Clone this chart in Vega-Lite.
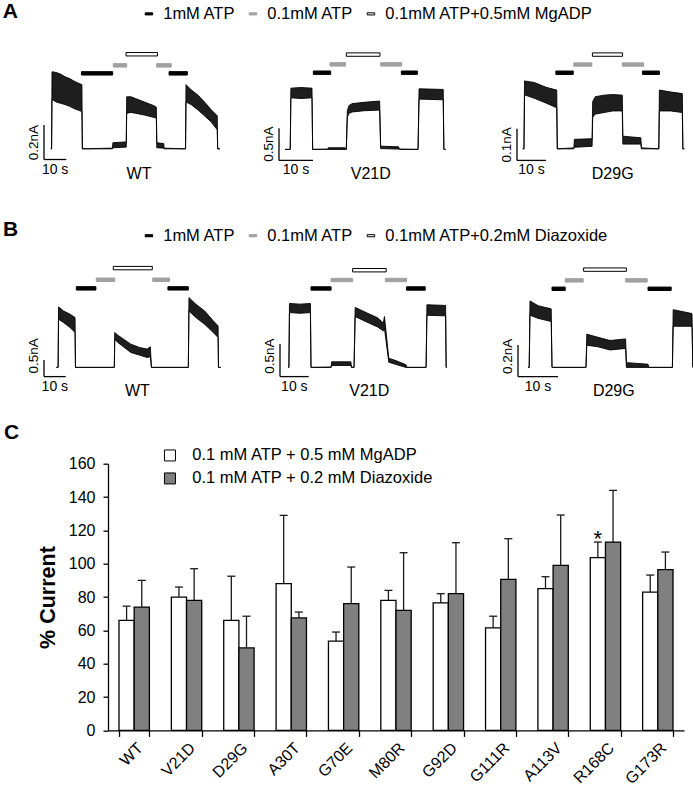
{
"$schema": "https://vega.github.io/schema/vega-lite/v6.json",
"padding": {"left": 2, "top": 0, "right": 0, "bottom": 0},
"config": {
  "view": {"stroke": null},
  "font": "Liberation Sans",
  "text": {"font": "Liberation Sans", "color": "#000"},
  "title": {"font": "Liberation Sans", "color": "#000"},
  "legend": {"labelFont": "Liberation Sans", "labelColor": "#000", "labelLimit": 400},
  "axis": {"labelFont": "Liberation Sans", "titleFont": "Liberation Sans"}
},
"datasets": {
"tr": [
{"p":"AWT","g":"trace","t":3.0,"v":0,"v2":0},
{"p":"AWT","g":"trace","t":3.4,"v":0,"v2":0},
{"p":"AWT","g":"trace","t":3.6,"v":0.444,"v2":0.285},
{"p":"AWT","g":"trace","t":5.5,"v":0.44,"v2":0.27},
{"p":"AWT","g":"trace","t":7.5,"v":0.43,"v2":0.262},
{"p":"AWT","g":"trace","t":9.5,"v":0.415,"v2":0.255},
{"p":"AWT","g":"trace","t":11.5,"v":0.405,"v2":0.245},
{"p":"AWT","g":"trace","t":13.5,"v":0.39,"v2":0.232},
{"p":"AWT","g":"trace","t":15.5,"v":0.378,"v2":0.222},
{"p":"AWT","g":"trace","t":17.0,"v":0.37,"v2":0.215},
{"p":"AWT","g":"trace","t":17.2,"v":0,"v2":0},
{"p":"AWT","g":"trace","t":30.7,"v":0.004,"v2":0},
{"p":"AWT","g":"trace","t":30.9,"v":0.035,"v2":0.006},
{"p":"AWT","g":"trace","t":36.9,"v":0.04,"v2":0.01},
{"p":"AWT","g":"trace","t":37.1,"v":0.30,"v2":0.205},
{"p":"AWT","g":"trace","t":39,"v":0.30,"v2":0.21},
{"p":"AWT","g":"trace","t":41,"v":0.29,"v2":0.205},
{"p":"AWT","g":"trace","t":45,"v":0.27,"v2":0.195},
{"p":"AWT","g":"trace","t":49,"v":0.25,"v2":0.182},
{"p":"AWT","g":"trace","t":50.4,"v":0.24,"v2":0.177},
{"p":"AWT","g":"trace","t":50.6,"v":0.035,"v2":0.006},
{"p":"AWT","g":"trace","t":53.7,"v":0.03,"v2":0.004},
{"p":"AWT","g":"trace","t":53.9,"v":0.004,"v2":0},
{"p":"AWT","g":"trace","t":63.5,"v":0,"v2":0},
{"p":"AWT","g":"trace","t":63.7,"v":0.37,"v2":0.27},
{"p":"AWT","g":"trace","t":66,"v":0.34,"v2":0.255},
{"p":"AWT","g":"trace","t":69,"v":0.31,"v2":0.225},
{"p":"AWT","g":"trace","t":72,"v":0.27,"v2":0.19},
{"p":"AWT","g":"trace","t":75,"v":0.225,"v2":0.155},
{"p":"AWT","g":"trace","t":77.7,"v":0.19,"v2":0.11},
{"p":"AWT","g":"trace","t":77.9,"v":0,"v2":0},
{"p":"AWT","g":"trace","t":78.9,"v":0,"v2":0},
{"p":"AWT","g":"sol","t":16.8,"t2":30.8,"v":0.435,"sol":"1mM ATP"},
{"p":"AWT","g":"sol","t":31.1,"t2":37.1,"v":0.481,"sol":"0.1mM ATP"},
{"p":"AWT","g":"sol","t":36.8,"t2":50.9,"v":0.545,"sol":"0.1mM ATP+0.5mM MgADP"},
{"p":"AWT","g":"sol","t":50.5,"t2":57.1,"v":0.481,"sol":"0.1mM ATP"},
{"p":"AWT","g":"sol","t":56.1,"t2":64.3,"v":0.435,"sol":"1mM ATP"},
{"p":"AWT","g":"sbar","t":0,"t2":0,"v":-0.0615,"v2":0.138},
{"p":"AWT","g":"sbar","t":0,"t2":10,"v":-0.0615,"v2":-0.0615},
{"p":"AWT","g":"lab","kind":"scale","txt":"0.2nA","t":0,"v":0.0355},
{"p":"AWT","g":"lab","kind":"time","txt":"10 s","t":5,"v":-0.0615},
{"p":"AWT","g":"lab","kind":"geno","txt":"WT","t":42.6,"v":-0.0615},

{"p":"AV21D","g":"trace","t":1.76,"v":0,"v2":0},
{"p":"AV21D","g":"trace","t":3.3,"v":0,"v2":0},
{"p":"AV21D","g":"trace","t":3.5,"v":0.95,"v2":0.80},
{"p":"AV21D","g":"trace","t":6.5,"v":0.96,"v2":0.79},
{"p":"AV21D","g":"trace","t":9.7,"v":0.95,"v2":0.80},
{"p":"AV21D","g":"trace","t":9.9,"v":0,"v2":0},
{"p":"AV21D","g":"trace","t":14.3,"v":0.004,"v2":0},
{"p":"AV21D","g":"trace","t":14.5,"v":0.025,"v2":0},
{"p":"AV21D","g":"trace","t":19.4,"v":0.025,"v2":0},
{"p":"AV21D","g":"trace","t":19.6,"v":0.004,"v2":0},
{"p":"AV21D","g":"trace","t":19.8,"v":0,"v2":0},
{"p":"AV21D","g":"trace","t":20.1,"v":0.60,"v2":0.50},
{"p":"AV21D","g":"trace","t":20.6,"v":0.68,"v2":0.56},
{"p":"AV21D","g":"trace","t":21.5,"v":0.71,"v2":0.58},
{"p":"AV21D","g":"trace","t":25,"v":0.73,"v2":0.60},
{"p":"AV21D","g":"trace","t":29.6,"v":0.75,"v2":0.61},
{"p":"AV21D","g":"trace","t":29.9,"v":0.05,"v2":0.012},
{"p":"AV21D","g":"trace","t":35.2,"v":0.04,"v2":0.005},
{"p":"AV21D","g":"trace","t":35.4,"v":0.004,"v2":0},
{"p":"AV21D","g":"trace","t":40.9,"v":0,"v2":0},
{"p":"AV21D","g":"trace","t":41.2,"v":0.94,"v2":0.78},
{"p":"AV21D","g":"trace","t":48.3,"v":0.93,"v2":0.77},
{"p":"AV21D","g":"trace","t":48.5,"v":0,"v2":0},
{"p":"AV21D","g":"trace","t":49,"v":0,"v2":0},
{"p":"AV21D","g":"sol","t":10.1,"t2":15.2,"v":1.19,"sol":"1mM ATP"},
{"p":"AV21D","g":"sol","t":15.0,"t2":19.6,"v":1.319,"sol":"0.1mM ATP"},
{"p":"AV21D","g":"sol","t":19.8,"t2":29.7,"v":1.471,"sol":"0.1mM ATP+0.5mM MgADP"},
{"p":"AV21D","g":"sol","t":29.9,"t2":36.1,"v":1.319,"sol":"0.1mM ATP"},
{"p":"AV21D","g":"sol","t":36.0,"t2":40.7,"v":1.19,"sol":"1mM ATP"},
{"p":"AV21D","g":"sbar","t":0,"t2":0,"v":-0.171,"v2":0.329},
{"p":"AV21D","g":"sbar","t":0,"t2":10,"v":-0.171,"v2":-0.171},
{"p":"AV21D","g":"lab","kind":"scale","txt":"0.5nA","t":0,"v":0.08},
{"p":"AV21D","g":"lab","kind":"time","txt":"10 s","t":5,"v":-0.171},
{"p":"AV21D","g":"lab","kind":"geno","txt":"V21D","t":27.0,"v":-0.171},

{"p":"AD29G","g":"trace","t":1.97,"v":0,"v2":0},
{"p":"AD29G","g":"trace","t":2.4,"v":0,"v2":0},
{"p":"AD29G","g":"trace","t":2.6,"v":0.215,"v2":0.171},
{"p":"AD29G","g":"trace","t":6,"v":0.21,"v2":0.16},
{"p":"AD29G","g":"trace","t":10,"v":0.195,"v2":0.145},
{"p":"AD29G","g":"trace","t":13.7,"v":0.186,"v2":0.13},
{"p":"AD29G","g":"trace","t":13.9,"v":0,"v2":0},
{"p":"AD29G","g":"trace","t":19.6,"v":0.003,"v2":0},
{"p":"AD29G","g":"trace","t":19.8,"v":0.03,"v2":0.005},
{"p":"AD29G","g":"trace","t":25.9,"v":0.032,"v2":0.008},
{"p":"AD29G","g":"trace","t":26.1,"v":0.15,"v2":0.10},
{"p":"AD29G","g":"trace","t":27,"v":0.165,"v2":0.11},
{"p":"AD29G","g":"trace","t":30,"v":0.17,"v2":0.115},
{"p":"AD29G","g":"trace","t":33,"v":0.172,"v2":0.12},
{"p":"AD29G","g":"trace","t":36.3,"v":0.17,"v2":0.12},
{"p":"AD29G","g":"trace","t":36.5,"v":0.04,"v2":0.015},
{"p":"AD29G","g":"trace","t":42.7,"v":0.035,"v2":0.015},
{"p":"AD29G","g":"trace","t":42.9,"v":0.003,"v2":0},
{"p":"AD29G","g":"trace","t":48.9,"v":0,"v2":0},
{"p":"AD29G","g":"trace","t":49.1,"v":0.186,"v2":0.12},
{"p":"AD29G","g":"trace","t":53,"v":0.18,"v2":0.12},
{"p":"AD29G","g":"trace","t":57.0,"v":0.175,"v2":0.115},
{"p":"AD29G","g":"trace","t":57.2,"v":0,"v2":0},
{"p":"AD29G","g":"trace","t":57.7,"v":0,"v2":0},
{"p":"AD29G","g":"sol","t":13.4,"t2":19.4,"v":0.241,"sol":"1mM ATP"},
{"p":"AD29G","g":"sol","t":19.6,"t2":25.8,"v":0.267,"sol":"0.1mM ATP"},
{"p":"AD29G","g":"sol","t":26.0,"t2":36.4,"v":0.2985,"sol":"0.1mM ATP+0.5mM MgADP"},
{"p":"AD29G","g":"sol","t":36.3,"t2":43.7,"v":0.267,"sol":"0.1mM ATP"},
{"p":"AD29G","g":"sol","t":43.3,"t2":49.1,"v":0.241,"sol":"1mM ATP"},
{"p":"AD29G","g":"sbar","t":0,"t2":0,"v":-0.0367,"v2":0.0633},
{"p":"AD29G","g":"sbar","t":0,"t2":10,"v":-0.0367,"v2":-0.0367},
{"p":"AD29G","g":"lab","kind":"scale","txt":"0.1nA","t":0,"v":0.0122},
{"p":"AD29G","g":"lab","kind":"time","txt":"10 s","t":5,"v":-0.0367},
{"p":"AD29G","g":"lab","kind":"geno","txt":"D29G","t":33.0,"v":-0.0367},

{"p":"BWT","g":"trace","t":5.7,"v":0,"v2":0},
{"p":"BWT","g":"trace","t":6.5,"v":0,"v2":0},
{"p":"BWT","g":"trace","t":6.7,"v":1.82,"v2":1.45},
{"p":"BWT","g":"trace","t":9,"v":1.70,"v2":1.35},
{"p":"BWT","g":"trace","t":12,"v":1.6,"v2":1.2},
{"p":"BWT","g":"trace","t":14.3,"v":1.5,"v2":1.05},
{"p":"BWT","g":"trace","t":14.5,"v":0,"v2":0},
{"p":"BWT","g":"trace","t":32.4,"v":0,"v2":0},
{"p":"BWT","g":"trace","t":32.6,"v":1.05,"v2":0.85},
{"p":"BWT","g":"trace","t":34,"v":0.97,"v2":0.75},
{"p":"BWT","g":"trace","t":36,"v":0.88,"v2":0.65},
{"p":"BWT","g":"trace","t":40,"v":0.7,"v2":0.45},
{"p":"BWT","g":"trace","t":44,"v":0.6,"v2":0.37},
{"p":"BWT","g":"trace","t":47.5,"v":0.55,"v2":0.3},
{"p":"BWT","g":"trace","t":49.0,"v":0.62,"v2":0.32},
{"p":"BWT","g":"trace","t":49.5,"v":0,"v2":0},
{"p":"BWT","g":"trace","t":66.5,"v":0,"v2":0},
{"p":"BWT","g":"trace","t":66.8,"v":2.1,"v2":1.7},
{"p":"BWT","g":"trace","t":70,"v":1.9,"v2":1.5},
{"p":"BWT","g":"trace","t":74,"v":1.7,"v2":1.3},
{"p":"BWT","g":"trace","t":78,"v":1.4,"v2":1.05},
{"p":"BWT","g":"trace","t":80.2,"v":1.25,"v2":0.9},
{"p":"BWT","g":"trace","t":80.4,"v":0,"v2":0},
{"p":"BWT","g":"trace","t":81.4,"v":0,"v2":0},
{"p":"BWT","g":"sol","t":14.9,"t2":23.9,"v":2.38,"sol":"1mM ATP"},
{"p":"BWT","g":"sol","t":24.1,"t2":32.6,"v":2.64,"sol":"0.1mM ATP"},
{"p":"BWT","g":"sol","t":31.9,"t2":49.9,"v":2.99,"sol":"0.1mM ATP+0.2mM Diazoxide"},
{"p":"BWT","g":"sol","t":50.1,"t2":57.8,"v":2.64,"sol":"0.1mM ATP"},
{"p":"BWT","g":"sol","t":57.1,"t2":66.5,"v":2.38,"sol":"1mM ATP"},
{"p":"BWT","g":"sbar","t":0,"t2":0,"v":-0.2778,"v2":0.2222},
{"p":"BWT","g":"sbar","t":0,"t2":10,"v":-0.2778,"v2":-0.2778},
{"p":"BWT","g":"lab","kind":"scale","txt":"0.5nA","t":0,"v":0.35},
{"p":"BWT","g":"lab","kind":"time","txt":"10 s","t":5,"v":-0.2778},
{"p":"BWT","g":"lab","kind":"geno","txt":"WT","t":43.0,"v":-0.2778},

{"p":"BV21D","g":"trace","t":2.9,"v":0,"v2":0},
{"p":"BV21D","g":"trace","t":3.1,"v":0,"v2":0},
{"p":"BV21D","g":"trace","t":3.3,"v":0.98,"v2":0.84},
{"p":"BV21D","g":"trace","t":7,"v":0.97,"v2":0.83},
{"p":"BV21D","g":"trace","t":10.6,"v":0.98,"v2":0.84},
{"p":"BV21D","g":"trace","t":10.8,"v":0,"v2":0},
{"p":"BV21D","g":"trace","t":17.8,"v":0.005,"v2":0},
{"p":"BV21D","g":"trace","t":18.0,"v":0.085,"v2":0.03},
{"p":"BV21D","g":"trace","t":24.7,"v":0.085,"v2":0.03},
{"p":"BV21D","g":"trace","t":24.9,"v":0.005,"v2":0},
{"p":"BV21D","g":"trace","t":25.8,"v":0,"v2":0},
{"p":"BV21D","g":"trace","t":26.2,"v":0.92,"v2":0.78},
{"p":"BV21D","g":"trace","t":30,"v":0.84,"v2":0.70},
{"p":"BV21D","g":"trace","t":34,"v":0.76,"v2":0.62},
{"p":"BV21D","g":"trace","t":36.0,"v":0.68,"v2":0.56},
{"p":"BV21D","g":"trace","t":36.4,"v":0.78,"v2":0.60},
{"p":"BV21D","g":"trace","t":37.9,"v":0.14,"v2":0.08},
{"p":"BV21D","g":"trace","t":40,"v":0.11,"v2":0.05},
{"p":"BV21D","g":"trace","t":43.9,"v":0.04,"v2":0},
{"p":"BV21D","g":"trace","t":44.2,"v":0,"v2":0},
{"p":"BV21D","g":"trace","t":50.9,"v":0,"v2":0},
{"p":"BV21D","g":"trace","t":51.2,"v":0.96,"v2":0.80},
{"p":"BV21D","g":"trace","t":57.7,"v":0.95,"v2":0.79},
{"p":"BV21D","g":"trace","t":57.9,"v":0,"v2":0},
{"p":"BV21D","g":"trace","t":58.1,"v":0,"v2":0},
{"p":"BV21D","g":"sol","t":10.8,"t2":17.8,"v":1.21,"sol":"1mM ATP"},
{"p":"BV21D","g":"sol","t":17.8,"t2":25.3,"v":1.34,"sol":"0.1mM ATP"},
{"p":"BV21D","g":"sol","t":25.3,"t2":37.0,"v":1.49,"sol":"0.1mM ATP+0.2mM Diazoxide"},
{"p":"BV21D","g":"sol","t":36.7,"t2":44.1,"v":1.34,"sol":"0.1mM ATP"},
{"p":"BV21D","g":"sol","t":44.1,"t2":50.6,"v":1.21,"sol":"1mM ATP"},
{"p":"BV21D","g":"sbar","t":0,"t2":0,"v":-0.1414,"v2":0.3586},
{"p":"BV21D","g":"sbar","t":0,"t2":10,"v":-0.1414,"v2":-0.1414},
{"p":"BV21D","g":"lab","kind":"scale","txt":"0.5nA","t":0,"v":0.174},
{"p":"BV21D","g":"lab","kind":"time","txt":"10 s","t":5,"v":-0.1414},
{"p":"BV21D","g":"lab","kind":"geno","txt":"V21D","t":31.1,"v":-0.1414},

{"p":"BD29G","g":"trace","t":2.5,"v":0,"v2":0},
{"p":"BD29G","g":"trace","t":2.8,"v":0,"v2":0},
{"p":"BD29G","g":"trace","t":3.0,"v":0.42,"v2":0.33},
{"p":"BD29G","g":"trace","t":5,"v":0.39,"v2":0.31},
{"p":"BD29G","g":"trace","t":8.3,"v":0.37,"v2":0.29},
{"p":"BD29G","g":"trace","t":8.5,"v":0,"v2":0},
{"p":"BD29G","g":"trace","t":17.0,"v":0,"v2":0},
{"p":"BD29G","g":"trace","t":17.2,"v":0.21,"v2":0.14},
{"p":"BD29G","g":"trace","t":20,"v":0.19,"v2":0.13},
{"p":"BD29G","g":"trace","t":23,"v":0.17,"v2":0.11},
{"p":"BD29G","g":"trace","t":26.9,"v":0.18,"v2":0.12},
{"p":"BD29G","g":"trace","t":27.1,"v":0.03,"v2":0},
{"p":"BD29G","g":"trace","t":32.5,"v":0.02,"v2":0},
{"p":"BD29G","g":"trace","t":32.7,"v":0,"v2":0},
{"p":"BD29G","g":"trace","t":38.6,"v":0,"v2":0},
{"p":"BD29G","g":"trace","t":38.8,"v":0.365,"v2":0.26},
{"p":"BD29G","g":"trace","t":43.5,"v":0.34,"v2":0.26},
{"p":"BD29G","g":"trace","t":43.7,"v":0,"v2":0},
{"p":"BD29G","g":"sol","t":8.5,"t2":11.8,"v":0.497,"sol":"1mM ATP"},
{"p":"BD29G","g":"sol","t":11.8,"t2":16.3,"v":0.55,"sol":"0.1mM ATP"},
{"p":"BD29G","g":"sol","t":16.4,"t2":27.1,"v":0.618,"sol":"0.1mM ATP+0.2mM Diazoxide"},
{"p":"BD29G","g":"sol","t":26.9,"t2":32.3,"v":0.55,"sol":"0.1mM ATP"},
{"p":"BD29G","g":"sol","t":32.5,"t2":38.3,"v":0.497,"sol":"1mM ATP"},
{"p":"BD29G","g":"sbar","t":0,"t2":0,"v":-0.0583,"v2":0.1417},
{"p":"BD29G","g":"sbar","t":0,"t2":10,"v":-0.0583,"v2":-0.0583},
{"p":"BD29G","g":"lab","kind":"scale","txt":"0.2nA","t":0,"v":0.07},
{"p":"BD29G","g":"lab","kind":"time","txt":"10 s","t":5,"v":-0.0583},
{"p":"BD29G","g":"lab","kind":"geno","txt":"D29G","t":23.95,"v":-0.0583}
],
"cur": [
{"mut":"WT","series":"0.1 mM ATP + 0.5 mM MgADP","val":66,"err":74.5},
{"mut":"WT","series":"0.1 mM ATP + 0.2 mM Diazoxide","val":74,"err":90},
{"mut":"V21D","series":"0.1 mM ATP + 0.5 mM MgADP","val":80,"err":86},
{"mut":"V21D","series":"0.1 mM ATP + 0.2 mM Diazoxide","val":78,"err":97},
{"mut":"D29G","series":"0.1 mM ATP + 0.5 mM MgADP","val":66,"err":92.5},
{"mut":"D29G","series":"0.1 mM ATP + 0.2 mM Diazoxide","val":49.5,"err":68.5},
{"mut":"A30T","series":"0.1 mM ATP + 0.5 mM MgADP","val":88,"err":129},
{"mut":"A30T","series":"0.1 mM ATP + 0.2 mM Diazoxide","val":67.5,"err":71},
{"mut":"G70E","series":"0.1 mM ATP + 0.5 mM MgADP","val":53.5,"err":59},
{"mut":"G70E","series":"0.1 mM ATP + 0.2 mM Diazoxide","val":76,"err":98},
{"mut":"M80R","series":"0.1 mM ATP + 0.5 mM MgADP","val":78,"err":84},
{"mut":"M80R","series":"0.1 mM ATP + 0.2 mM Diazoxide","val":72,"err":106.6},
{"mut":"G92D","series":"0.1 mM ATP + 0.5 mM MgADP","val":76.5,"err":82},
{"mut":"G92D","series":"0.1 mM ATP + 0.2 mM Diazoxide","val":82,"err":112.6},
{"mut":"G111R","series":"0.1 mM ATP + 0.5 mM MgADP","val":61.5,"err":68.5},
{"mut":"G111R","series":"0.1 mM ATP + 0.2 mM Diazoxide","val":90.6,"err":115},
{"mut":"A113V","series":"0.1 mM ATP + 0.5 mM MgADP","val":85,"err":92.2},
{"mut":"A113V","series":"0.1 mM ATP + 0.2 mM Diazoxide","val":99,"err":129.2},
{"mut":"R168C","series":"0.1 mM ATP + 0.5 mM MgADP","val":103.6,"err":113,"sig":"*"},
{"mut":"R168C","series":"0.1 mM ATP + 0.2 mM Diazoxide","val":113,"err":144},
{"mut":"G173R","series":"0.1 mM ATP + 0.5 mM MgADP","val":83,"err":93.2},
{"mut":"G173R","series":"0.1 mM ATP + 0.2 mM Diazoxide","val":96.4,"err":107}
]
},
"bounds": "flush",
"spacing": 211.35,
"resolve": {"scale": {"fill": "independent", "stroke": "independent"}, "legend": {"fill": "independent", "stroke": "independent"}},
"vconcat": [
{
 "hconcat": [
  {
   "width": 175, "height": 126,
   "title": {"text": "A", "anchor": "start", "frame": "group", "offset": 0, "dy": -2.4, "dx": -41.3, "fontSize": 21, "fontWeight": "bold", "baseline": "alphabetic"},
   "data": {"name": "tr"},
   "transform": [{"filter": "datum.p==='AWT'"}],
   "encoding": {
     "x": {"field": "t", "type": "quantitative", "scale": {"domain": [0, 78.5], "nice": false, "zero": false}, "axis": null},
     "y": {"field": "v", "type": "quantitative", "scale": {"domain": [-0.0759, 0.5926], "nice": false, "zero": false}, "axis": null}
   },
   "layer": [
    {"transform": [{"filter": "datum.g==='trace'"}], "mark": {"type": "area", "fill": "#1e1e1e", "stroke": "#000", "strokeWidth": 0.9}, "encoding": {"y2": {"field": "v2"}}},
    {"transform": [{"filter": "datum.g==='sol'"}], "mark": {"type": "bar", "orient": "horizontal", "height": 3.4, "strokeWidth": 1},
     "encoding": {"x2": {"field": "t2"},
      "fill": {"field": "sol", "type": "nominal", "scale": {"domain": ["1mM ATP", "0.1mM ATP", "0.1mM ATP+0.5mM MgADP"], "range": ["#000000", "#a0a0a0", "#ffffff"]},
       "legend": {"title": null, "orient": "none", "direction": "horizontal", "legendX": 96.7, "legendY": -35.5, "symbolType": "M-0.5,-0.14H0.5V0.14H-0.5Z", "symbolSize": 225, "symbolStrokeWidth": 1, "labelFontSize": 16.5, "labelOffset": 6, "columnPadding": 9, "padding": 0, "labelLimit": 400}},
      "stroke": {"field": "sol", "type": "nominal", "scale": {"domain": ["1mM ATP", "0.1mM ATP", "0.1mM ATP+0.5mM MgADP"], "range": ["#000000", "#a0a0a0", "#000000"]},
       "legend": {"title": null, "orient": "none", "direction": "horizontal", "legendX": 96.7, "legendY": -35.5, "symbolType": "M-0.5,-0.14H0.5V0.14H-0.5Z", "symbolSize": 225, "symbolStrokeWidth": 1, "labelFontSize": 16.5, "labelOffset": 6, "columnPadding": 9, "padding": 0, "labelLimit": 400}}}},
    {"transform": [{"filter": "datum.g==='sbar'"}], "mark": {"type": "rule", "color": "#000", "strokeWidth": 1.3}, "encoding": {"x2": {"field": "t2"}, "y2": {"field": "v2"}}},
    {"transform": [{"filter": "datum.g==='lab' && datum.kind==='scale'"}], "mark": {"type": "text", "angle": 270, "align": "center", "baseline": "bottom", "dy": -3, "fontSize": 13.5}, "encoding": {"text": {"field": "txt"}}},
    {"transform": [{"filter": "datum.g==='lab' && datum.kind==='time'"}], "mark": {"type": "text", "align": "center", "baseline": "top", "dy": 3, "fontSize": 14}, "encoding": {"text": {"field": "txt"}}},
    {"transform": [{"filter": "datum.g==='lab' && datum.kind==='geno'"}], "mark": {"type": "text", "align": "center", "baseline": "top", "dy": 6, "fontSize": 16}, "encoding": {"text": {"field": "txt"}}}
   ]
  },
  {
   "width": 177.8, "height": 126,
   "data": {"name": "tr"},
   "transform": [{"filter": "datum.p==='AV21D'"}],
   "encoding": {
     "x": {"field": "t", "type": "quantitative", "scale": {"domain": [0, 52.3], "nice": false, "zero": false}, "axis": null},
     "y": {"field": "v", "type": "quantitative", "scale": {"domain": [-0.1957, 1.6043], "nice": false, "zero": false}, "axis": null}
   },
   "layer": [
    {"transform": [{"filter": "datum.g==='trace'"}], "mark": {"type": "area", "fill": "#1e1e1e", "stroke": "#000", "strokeWidth": 0.9}, "encoding": {"y2": {"field": "v2"}}},
    {"transform": [{"filter": "datum.g==='sol'"}], "mark": {"type": "bar", "orient": "horizontal", "height": 3.4, "strokeWidth": 1},
     "encoding": {"x2": {"field": "t2"},
      "fill": {"field": "sol", "type": "nominal", "scale": {"domain": ["1mM ATP", "0.1mM ATP", "0.1mM ATP+0.5mM MgADP"], "range": ["#000000", "#a0a0a0", "#ffffff"]},
       "legend": {"title": null, "orient": "none", "direction": "horizontal", "legendX": 96.7, "legendY": -35.5, "symbolType": "M-0.5,-0.14H0.5V0.14H-0.5Z", "symbolSize": 225, "symbolStrokeWidth": 1, "labelFontSize": 16.5, "labelOffset": 6, "columnPadding": 9, "padding": 0, "labelLimit": 400}},
      "stroke": {"field": "sol", "type": "nominal", "scale": {"domain": ["1mM ATP", "0.1mM ATP", "0.1mM ATP+0.5mM MgADP"], "range": ["#000000", "#a0a0a0", "#000000"]},
       "legend": {"title": null, "orient": "none", "direction": "horizontal", "legendX": 96.7, "legendY": -35.5, "symbolType": "M-0.5,-0.14H0.5V0.14H-0.5Z", "symbolSize": 225, "symbolStrokeWidth": 1, "labelFontSize": 16.5, "labelOffset": 6, "columnPadding": 9, "padding": 0, "labelLimit": 400}}}},
    {"transform": [{"filter": "datum.g==='sbar'"}], "mark": {"type": "rule", "color": "#000", "strokeWidth": 1.3}, "encoding": {"x2": {"field": "t2"}, "y2": {"field": "v2"}}},
    {"transform": [{"filter": "datum.g==='lab' && datum.kind==='scale'"}], "mark": {"type": "text", "angle": 270, "align": "center", "baseline": "bottom", "dy": -3, "fontSize": 13.5}, "encoding": {"text": {"field": "txt"}}},
    {"transform": [{"filter": "datum.g==='lab' && datum.kind==='time'"}], "mark": {"type": "text", "align": "center", "baseline": "top", "dy": 3, "fontSize": 14}, "encoding": {"text": {"field": "txt"}}},
    {"transform": [{"filter": "datum.g==='lab' && datum.kind==='geno'"}], "mark": {"type": "text", "align": "center", "baseline": "top", "dy": 6, "fontSize": 16}, "encoding": {"text": {"field": "txt"}}}
   ]
  },
  {
   "width": 168.2, "height": 126,
   "data": {"name": "tr"},
   "transform": [{"filter": "datum.p==='AD29G'"}],
   "encoding": {
     "x": {"field": "t", "type": "quantitative", "scale": {"domain": [0, 58], "nice": false, "zero": false}, "axis": null},
     "y": {"field": "v", "type": "quantitative", "scale": {"domain": [-0.0417, 0.3257], "nice": false, "zero": false}, "axis": null}
   },
   "layer": [
    {"transform": [{"filter": "datum.g==='trace'"}], "mark": {"type": "area", "fill": "#1e1e1e", "stroke": "#000", "strokeWidth": 0.9}, "encoding": {"y2": {"field": "v2"}}},
    {"transform": [{"filter": "datum.g==='sol'"}], "mark": {"type": "bar", "orient": "horizontal", "height": 3.4, "strokeWidth": 1},
     "encoding": {"x2": {"field": "t2"},
      "fill": {"field": "sol", "type": "nominal", "scale": {"domain": ["1mM ATP", "0.1mM ATP", "0.1mM ATP+0.5mM MgADP"], "range": ["#000000", "#a0a0a0", "#ffffff"]},
       "legend": {"title": null, "orient": "none", "direction": "horizontal", "legendX": 96.7, "legendY": -35.5, "symbolType": "M-0.5,-0.14H0.5V0.14H-0.5Z", "symbolSize": 225, "symbolStrokeWidth": 1, "labelFontSize": 16.5, "labelOffset": 6, "columnPadding": 9, "padding": 0, "labelLimit": 400}},
      "stroke": {"field": "sol", "type": "nominal", "scale": {"domain": ["1mM ATP", "0.1mM ATP", "0.1mM ATP+0.5mM MgADP"], "range": ["#000000", "#a0a0a0", "#000000"]},
       "legend": {"title": null, "orient": "none", "direction": "horizontal", "legendX": 96.7, "legendY": -35.5, "symbolType": "M-0.5,-0.14H0.5V0.14H-0.5Z", "symbolSize": 225, "symbolStrokeWidth": 1, "labelFontSize": 16.5, "labelOffset": 6, "columnPadding": 9, "padding": 0, "labelLimit": 400}}}},
    {"transform": [{"filter": "datum.g==='sbar'"}], "mark": {"type": "rule", "color": "#000", "strokeWidth": 1.3}, "encoding": {"x2": {"field": "t2"}, "y2": {"field": "v2"}}},
    {"transform": [{"filter": "datum.g==='lab' && datum.kind==='scale'"}], "mark": {"type": "text", "angle": 270, "align": "center", "baseline": "bottom", "dy": -3, "fontSize": 13.5}, "encoding": {"text": {"field": "txt"}}},
    {"transform": [{"filter": "datum.g==='lab' && datum.kind==='time'"}], "mark": {"type": "text", "align": "center", "baseline": "top", "dy": 3, "fontSize": 14}, "encoding": {"text": {"field": "txt"}}},
    {"transform": [{"filter": "datum.g==='lab' && datum.kind==='geno'"}], "mark": {"type": "text", "align": "center", "baseline": "top", "dy": 6, "fontSize": 16}, "encoding": {"text": {"field": "txt"}}}
   ]
  }
 ],
 "spacing": 60,
 "bounds": "flush",
 "resolve": {"scale": {"x": "independent", "y": "independent", "fill": "shared", "stroke": "shared"}, "legend": {"fill": "shared", "stroke": "shared"}}
},
{
 "hconcat": [
  {
   "width": 175.8, "height": 128.7,
   "title": {"text": "B", "anchor": "start", "frame": "group", "offset": 0, "dy": 4.3, "dx": -41.1, "fontSize": 21, "fontWeight": "bold", "baseline": "alphabetic"},
   "data": {"name": "tr"},
   "transform": [{"filter": "datum.p==='BWT'"}],
   "encoding": {
     "x": {"field": "t", "type": "quantitative", "scale": {"domain": [0, 81], "nice": false, "zero": false}, "axis": null},
     "y": {"field": "v", "type": "quantitative", "scale": {"domain": [-0.2611, 3.3139], "nice": false, "zero": false}, "axis": null}
   },
   "layer": [
    {"transform": [{"filter": "datum.g==='trace'"}], "mark": {"type": "area", "fill": "#1e1e1e", "stroke": "#000", "strokeWidth": 0.9}, "encoding": {"y2": {"field": "v2"}}},
    {"transform": [{"filter": "datum.g==='sol'"}], "mark": {"type": "bar", "orient": "horizontal", "height": 3.4, "strokeWidth": 1},
     "encoding": {"x2": {"field": "t2"},
      "fill": {"field": "sol", "type": "nominal", "scale": {"domain": ["1mM ATP", "0.1mM ATP", "0.1mM ATP+0.2mM Diazoxide"], "range": ["#000000", "#a0a0a0", "#ffffff"]},
       "legend": {"title": null, "orient": "none", "direction": "horizontal", "legendX": 96.7, "legendY": -25, "symbolType": "M-0.5,-0.14H0.5V0.14H-0.5Z", "symbolSize": 225, "symbolStrokeWidth": 1, "labelFontSize": 16.5, "labelOffset": 6, "columnPadding": 9, "padding": 0, "labelLimit": 400}},
      "stroke": {"field": "sol", "type": "nominal", "scale": {"domain": ["1mM ATP", "0.1mM ATP", "0.1mM ATP+0.2mM Diazoxide"], "range": ["#000000", "#a0a0a0", "#000000"]},
       "legend": {"title": null, "orient": "none", "direction": "horizontal", "legendX": 96.7, "legendY": -25, "symbolType": "M-0.5,-0.14H0.5V0.14H-0.5Z", "symbolSize": 225, "symbolStrokeWidth": 1, "labelFontSize": 16.5, "labelOffset": 6, "columnPadding": 9, "padding": 0, "labelLimit": 400}}}},
    {"transform": [{"filter": "datum.g==='sbar'"}], "mark": {"type": "rule", "color": "#000", "strokeWidth": 1.3}, "encoding": {"x2": {"field": "t2"}, "y2": {"field": "v2"}}},
    {"transform": [{"filter": "datum.g==='lab' && datum.kind==='scale'"}], "mark": {"type": "text", "angle": 270, "align": "center", "baseline": "bottom", "dy": -3, "fontSize": 13.5}, "encoding": {"text": {"field": "txt"}}},
    {"transform": [{"filter": "datum.g==='lab' && datum.kind==='time'"}], "mark": {"type": "text", "align": "center", "baseline": "top", "dy": 3, "fontSize": 14}, "encoding": {"text": {"field": "txt"}}},
    {"transform": [{"filter": "datum.g==='lab' && datum.kind==='geno'"}], "mark": {"type": "text", "align": "center", "baseline": "top", "dy": 6, "fontSize": 16}, "encoding": {"text": {"field": "txt"}}}
   ]
  },
  {
   "width": 177.65, "height": 128.7,
   "data": {"name": "tr"},
   "transform": [{"filter": "datum.p==='BV21D'"}],
   "encoding": {
     "x": {"field": "t", "type": "quantitative", "scale": {"domain": [0, 61.9], "nice": false, "zero": false}, "axis": null},
     "y": {"field": "v", "type": "quantitative", "scale": {"domain": [-0.133, 1.6874], "nice": false, "zero": false}, "axis": null}
   },
   "layer": [
    {"transform": [{"filter": "datum.g==='trace'"}], "mark": {"type": "area", "fill": "#1e1e1e", "stroke": "#000", "strokeWidth": 0.9}, "encoding": {"y2": {"field": "v2"}}},
    {"transform": [{"filter": "datum.g==='sol'"}], "mark": {"type": "bar", "orient": "horizontal", "height": 3.4, "strokeWidth": 1},
     "encoding": {"x2": {"field": "t2"},
      "fill": {"field": "sol", "type": "nominal", "scale": {"domain": ["1mM ATP", "0.1mM ATP", "0.1mM ATP+0.2mM Diazoxide"], "range": ["#000000", "#a0a0a0", "#ffffff"]},
       "legend": {"title": null, "orient": "none", "direction": "horizontal", "legendX": 96.7, "legendY": -25, "symbolType": "M-0.5,-0.14H0.5V0.14H-0.5Z", "symbolSize": 225, "symbolStrokeWidth": 1, "labelFontSize": 16.5, "labelOffset": 6, "columnPadding": 9, "padding": 0, "labelLimit": 400}},
      "stroke": {"field": "sol", "type": "nominal", "scale": {"domain": ["1mM ATP", "0.1mM ATP", "0.1mM ATP+0.2mM Diazoxide"], "range": ["#000000", "#a0a0a0", "#000000"]},
       "legend": {"title": null, "orient": "none", "direction": "horizontal", "legendX": 96.7, "legendY": -25, "symbolType": "M-0.5,-0.14H0.5V0.14H-0.5Z", "symbolSize": 225, "symbolStrokeWidth": 1, "labelFontSize": 16.5, "labelOffset": 6, "columnPadding": 9, "padding": 0, "labelLimit": 400}}}},
    {"transform": [{"filter": "datum.g==='sbar'"}], "mark": {"type": "rule", "color": "#000", "strokeWidth": 1.3}, "encoding": {"x2": {"field": "t2"}, "y2": {"field": "v2"}}},
    {"transform": [{"filter": "datum.g==='lab' && datum.kind==='scale'"}], "mark": {"type": "text", "angle": 270, "align": "center", "baseline": "bottom", "dy": -3, "fontSize": 13.5}, "encoding": {"text": {"field": "txt"}}},
    {"transform": [{"filter": "datum.g==='lab' && datum.kind==='time'"}], "mark": {"type": "text", "align": "center", "baseline": "top", "dy": 3, "fontSize": 14}, "encoding": {"text": {"field": "txt"}}},
    {"transform": [{"filter": "datum.g==='lab' && datum.kind==='geno'"}], "mark": {"type": "text", "align": "center", "baseline": "top", "dy": 6, "fontSize": 16}, "encoding": {"text": {"field": "txt"}}}
   ]
  },
  {
   "width": 176, "height": 128.7,
   "data": {"name": "tr"},
   "transform": [{"filter": "datum.p==='BD29G'"}],
   "encoding": {
     "x": {"field": "t", "type": "quantitative", "scale": {"domain": [0, 44], "nice": false, "zero": false}, "axis": null},
     "y": {"field": "v", "type": "quantitative", "scale": {"domain": [-0.0548, 0.6956], "nice": false, "zero": false}, "axis": null}
   },
   "layer": [
    {"transform": [{"filter": "datum.g==='trace'"}], "mark": {"type": "area", "fill": "#1e1e1e", "stroke": "#000", "strokeWidth": 0.9}, "encoding": {"y2": {"field": "v2"}}},
    {"transform": [{"filter": "datum.g==='sol'"}], "mark": {"type": "bar", "orient": "horizontal", "height": 3.4, "strokeWidth": 1},
     "encoding": {"x2": {"field": "t2"},
      "fill": {"field": "sol", "type": "nominal", "scale": {"domain": ["1mM ATP", "0.1mM ATP", "0.1mM ATP+0.2mM Diazoxide"], "range": ["#000000", "#a0a0a0", "#ffffff"]},
       "legend": {"title": null, "orient": "none", "direction": "horizontal", "legendX": 96.7, "legendY": -25, "symbolType": "M-0.5,-0.14H0.5V0.14H-0.5Z", "symbolSize": 225, "symbolStrokeWidth": 1, "labelFontSize": 16.5, "labelOffset": 6, "columnPadding": 9, "padding": 0, "labelLimit": 400}},
      "stroke": {"field": "sol", "type": "nominal", "scale": {"domain": ["1mM ATP", "0.1mM ATP", "0.1mM ATP+0.2mM Diazoxide"], "range": ["#000000", "#a0a0a0", "#000000"]},
       "legend": {"title": null, "orient": "none", "direction": "horizontal", "legendX": 96.7, "legendY": -25, "symbolType": "M-0.5,-0.14H0.5V0.14H-0.5Z", "symbolSize": 225, "symbolStrokeWidth": 1, "labelFontSize": 16.5, "labelOffset": 6, "columnPadding": 9, "padding": 0, "labelLimit": 400}}}},
    {"transform": [{"filter": "datum.g==='sbar'"}], "mark": {"type": "rule", "color": "#000", "strokeWidth": 1.3}, "encoding": {"x2": {"field": "t2"}, "y2": {"field": "v2"}}},
    {"transform": [{"filter": "datum.g==='lab' && datum.kind==='scale'"}], "mark": {"type": "text", "angle": 270, "align": "center", "baseline": "bottom", "dy": -3, "fontSize": 13.5}, "encoding": {"text": {"field": "txt"}}},
    {"transform": [{"filter": "datum.g==='lab' && datum.kind==='time'"}], "mark": {"type": "text", "align": "center", "baseline": "top", "dy": 3, "fontSize": 14}, "encoding": {"text": {"field": "txt"}}},
    {"transform": [{"filter": "datum.g==='lab' && datum.kind==='geno'"}], "mark": {"type": "text", "align": "center", "baseline": "top", "dy": 6, "fontSize": 16}, "encoding": {"text": {"field": "txt"}}}
   ]
  }
 ],
 "spacing": 60,
 "bounds": "flush",
 "resolve": {"scale": {"x": "independent", "y": "independent", "fill": "shared", "stroke": "shared"}, "legend": {"fill": "shared", "stroke": "shared"}}
},
{
 "hconcat": [
  {
   "width": 3.4, "height": 266.7,
   "title": {"text": "C", "anchor": "start", "frame": "group", "offset": 0, "dy": -3.4, "dx": -40, "fontSize": 21, "fontWeight": "bold", "baseline": "alphabetic"},
   "data": {"values": []},
   "mark": "point"
  },
  {
   "width": 576, "height": 266.7,
   "data": {"name": "cur"},
   "encoding": {
     "x": {"field": "mut", "type": "nominal", "sort": ["WT","V21D","D29G","A30T","G70E","M80R","G92D","G111R","A113V","R168C","G173R"],
       "scale": {"paddingInner": 0.42, "paddingOuter": 0.21},
       "axis": {"title": null, "labelAngle": -45, "labelFontSize": 16, "labelColor": "#000", "tickBand": "extent", "tickColor": "#000", "tickSize": 6, "tickWidth": 1.3, "domainColor": "#000", "domainWidth": 1.3, "labelPadding": 3}},
     "xOffset": {"field": "series", "type": "nominal", "sort": ["0.1 mM ATP + 0.5 mM MgADP", "0.1 mM ATP + 0.2 mM Diazoxide"], "scale": {"paddingInner": 0, "paddingOuter": 0}}
   },
   "layer": [
    {"mark": {"type": "bar", "stroke": "#000", "strokeWidth": 1.3},
     "encoding": {
      "y": {"field": "val", "type": "quantitative", "scale": {"domain": [0, 160], "nice": false},
        "axis": {"title": "% Current", "values": [0,20,40,60,80,100,120,140,160], "tickCount": 12, "labelOverlap": false, "grid": false, "titleFontSize": 21.5, "titleFontWeight": "bold", "titleColor": "#000", "titlePadding": 9, "labelFontSize": 16, "labelColor": "#000", "labelPadding": 8, "tickColor": "#000", "tickSize": 5, "tickWidth": 1.3, "domainColor": "#000", "domainWidth": 1.3}},
      "fill": {"field": "series", "type": "nominal", "scale": {"domain": ["0.1 mM ATP + 0.5 mM MgADP", "0.1 mM ATP + 0.2 mM Diazoxide"], "range": ["#ffffff", "#808080"]},
        "legend": {"title": null, "orient": "none", "legendX": 117.7, "legendY": -16.5, "symbolType": "square", "symbolSize": 121, "symbolStrokeColor": "#000", "symbolStrokeWidth": 1, "labelFontSize": 16.5, "labelOffset": 14, "rowPadding": 6, "padding": 0, "labelLimit": 400}}
     }},
    {"mark": {"type": "rule", "color": "#1a1a1a", "strokeWidth": 1.3}, "encoding": {"y": {"field": "val", "type": "quantitative"}, "y2": {"field": "err"}}},
    {"mark": {"type": "tick", "color": "#1a1a1a", "thickness": 1.3, "size": 8, "opacity": 1}, "encoding": {"y": {"field": "err", "type": "quantitative"}}},
    {"transform": [{"filter": "datum.sig"}], "mark": {"type": "text", "fontSize": 22, "baseline": "alphabetic", "dy": 4}, "encoding": {"y": {"field": "err", "type": "quantitative"}, "text": {"field": "sig"}}}
   ]
  }
 ],
 "spacing": 60,
 "bounds": "flush"
}
]
}
